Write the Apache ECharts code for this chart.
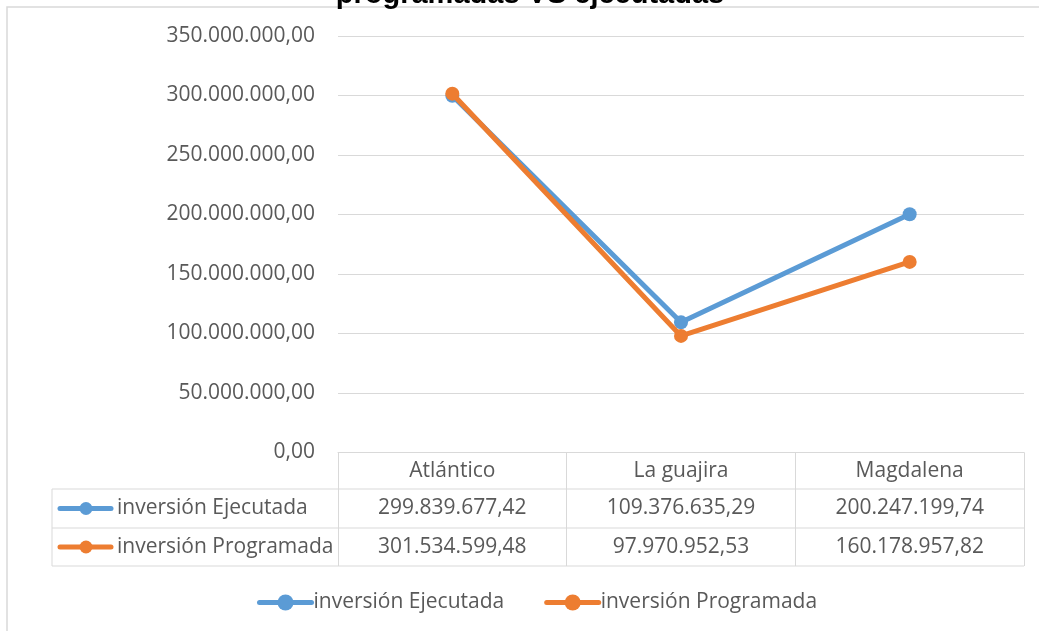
<!DOCTYPE html>
<html><head><meta charset="utf-8">
<script src="https://cdn.jsdelivr.net/npm/echarts@6/dist/echarts.min.js"></script>
<style>html,body{margin:0;padding:0;background:#fff}#c{width:1039px;height:631px}</style>
</head><body><div id="c"></div>
<script>
const categories = ['Atlántico', 'La guajira', 'Magdalena'];
const seriesNames = ['inversión Ejecutada', 'inversión Programada'];
const ejecutada = [299839677.42, 109376635.29, 200247199.74];
const programada = [301534599.48, 97970952.53, 160178957.82];
const yMin = 0, yMax = 350000000, yStep = 50000000;
const titleText = 'programadas VS ejecutadas';
const colors = ['#5B9BD5', '#ED7D31'];

function fmt(v) {
  const p = Number(v).toFixed(2).split('.');
  return p[0].replace(/\B(?=(\d{3})+(?!\d))/g, '.') + ',' + p[1];
}

const FONT = 'Open Sans';
const FS = 21;
const TXT = '#595959';
const LINEC = '#d9d9d9';
const W = 1039, H = 631;
const gridL = 338, gridR = 15, gridT = 36, gridB = 178.5;
const axisY = H - gridB;
const rowBottoms = [axisY + 36.5, axisY + 75.5, axisY + 113.5];
const tableLeft = 52, tableRight = W - gridR;

const chart = echarts.init(document.getElementById('c'), null, {renderer: 'canvas'});

const valueRows = [ejecutada, programada];
const xAxes = [{
  type: 'category', data: categories, gridIndex: 0, position: 'bottom',
  axisLine: {show: true, lineStyle: {color: LINEC, width: 1}},
  axisTick: {show: true, alignWithLabel: false, length: rowBottoms[2] - axisY, lineStyle: {color: LINEC, width: 1}},
  axisLabel: {interval: 0, margin: 8, color: TXT, fontFamily: FONT, fontSize: FS},
  splitLine: {show: false}
}];
valueRows.forEach((vals, i) => {
  xAxes.push({
    type: 'category', data: vals.map(fmt), gridIndex: 0, position: 'bottom',
    axisLine: {show: false}, axisTick: {show: false}, splitLine: {show: false},
    axisLabel: {interval: 0, margin: i === 0 ? 45.5 : 84, color: TXT, fontFamily: FONT, fontSize: FS}
  });
});

const graphics = [
  {type: 'rect', shape: {x: 7, y: 7, width: 1200, height: 800}, style: {fill: null, stroke: LINEC, lineWidth: 1.5}, silent: true, z: 0},
  {type: 'text', x: 530, y: 9, style: {text: titleText, fill: '#000', font: 'bold 29px "Liberation Sans"', align: 'center', verticalAlign: 'bottom'}, z: 10}
];
rowBottoms.forEach(y => {
  graphics.push({type: 'line', shape: {x1: tableLeft, y1: y, x2: tableRight, y2: y}, style: {stroke: LINEC, lineWidth: 1}, silent: true});
});
graphics.push({type: 'line', shape: {x1: tableLeft, y1: rowBottoms[0], x2: tableLeft, y2: rowBottoms[2]}, style: {stroke: LINEC, lineWidth: 1}, silent: true});
seriesNames.forEach((name, i) => {
  const cy = (rowBottoms[i] + rowBottoms[i + 1]) / 2;
  graphics.push({type: 'line', shape: {x1: 60, y1: cy, x2: 111, y2: cy}, style: {stroke: colors[i], lineWidth: 5, lineCap: 'round'}});
  graphics.push({type: 'circle', shape: {cx: 86, cy: cy, r: 6.5}, style: {fill: colors[i]}});
  graphics.push({type: 'text', x: 117, y: cy, style: {text: name, fill: TXT, font: FS + 'px "' + FONT + '"', verticalAlign: 'middle'}});
});

const option = {
  backgroundColor: '#fff',
  animation: false,
  grid: {left: gridL, right: gridR, top: gridT, bottom: gridB, containLabel: false},
  legend: {
    left: 252, top: 587, itemWidth: 52, itemHeight: 20, itemGap: 40,
    lineStyle: {width: 5, cap: 'round'},
    textStyle: {color: TXT, fontFamily: FONT, fontSize: FS, padding: [0, 0, 0, -3]},
    data: seriesNames
  },
  xAxis: xAxes,
  yAxis: {
    type: 'value', min: yMin, max: yMax, interval: yStep,
    axisLine: {show: false}, axisTick: {show: false},
    splitLine: {lineStyle: {color: LINEC, width: 1}},
    axisLabel: {formatter: v => fmt(v), color: TXT, fontFamily: FONT, fontSize: FS, margin: 23}
  },
  series: [
    {name: seriesNames[0], type: 'line', data: ejecutada, xAxisIndex: 0, symbol: 'circle', symbolSize: 14,
      lineStyle: {color: colors[0], width: 5}, itemStyle: {color: colors[0]}, z: 3},
    {name: seriesNames[1], type: 'line', data: programada, xAxisIndex: 0, symbol: 'circle', symbolSize: 14,
      lineStyle: {color: colors[1], width: 5}, itemStyle: {color: colors[1]}, z: 4}
  ],
  graphic: graphics
};
chart.setOption(option);
</script>
</body></html>
